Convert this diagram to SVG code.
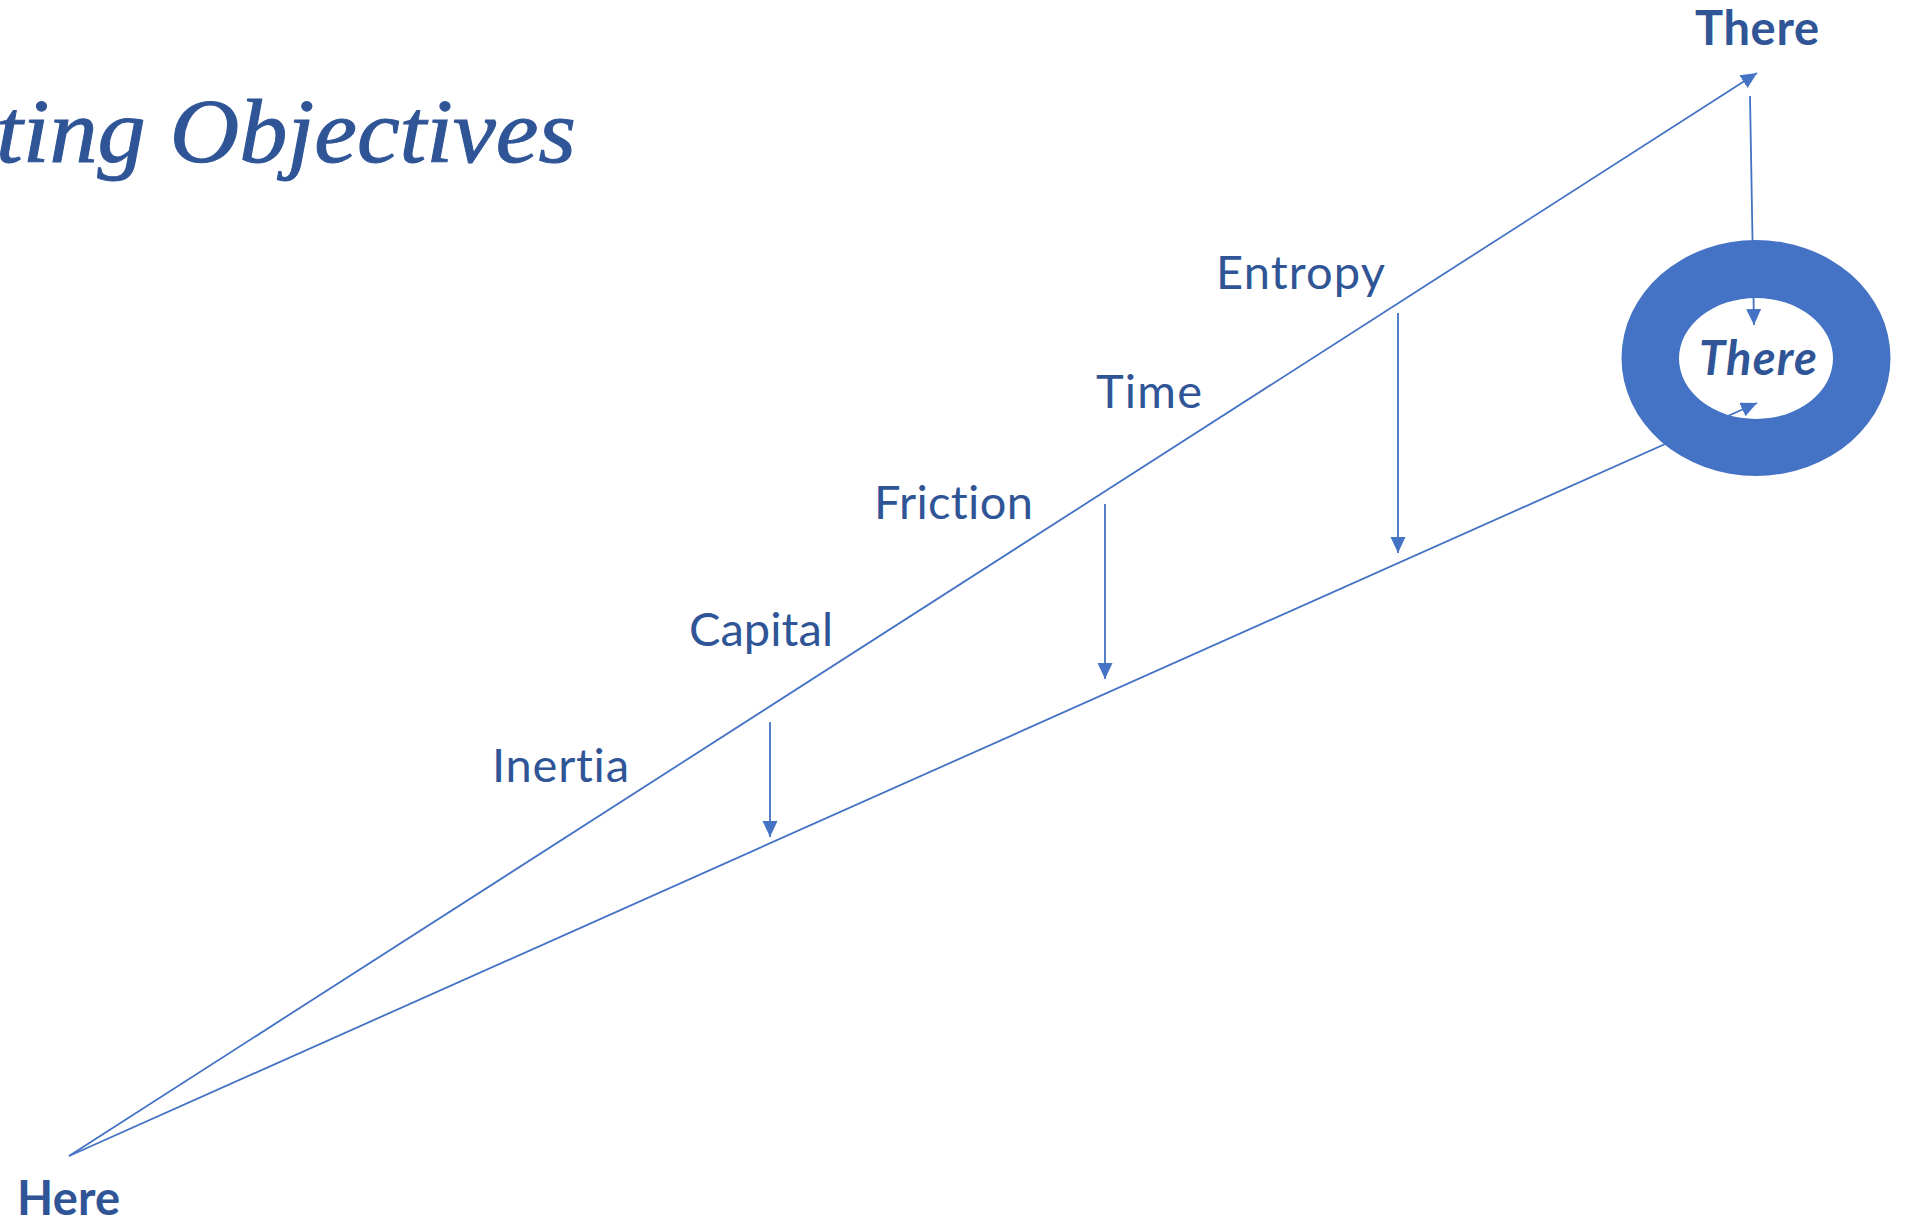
<svg xmlns="http://www.w3.org/2000/svg" width="1909" height="1223" viewBox="0 0 1909 1223">
  <defs>
    <marker id="arrow" markerUnits="userSpaceOnUse" markerWidth="17" markerHeight="16" refX="16" refY="7.5" orient="auto">
      <path d="M0,0 L16,7.5 L0,15 Z" fill="#4472C4"/>
    </marker>
    <style>
      .conn { stroke: #4472C4; stroke-width: 1.8; fill: none; marker-end: url(#arrow); }
      .label { font-family: Lato, "Open Sans", "Liberation Sans", sans-serif; font-size: 47px; fill: #2F5597; font-variant-ligatures: none; font-feature-settings: "liga" 0, "clig" 0; }
      .bold { font-weight: bold; }
      .title { font-family: "Liberation Serif", serif; font-style: italic; font-size: 90px; fill: #2F5597; stroke: #2F5597; stroke-width: 1; }
    </style>
  </defs>
  <rect width="1909" height="1223" fill="#FFFFFF"/>

  <g id="title">
    <text class="title" x="-4" y="162" textLength="580" lengthAdjust="spacingAndGlyphs">ting Objectives</text>
  </g>

  <g id="connectors">
    <line class="conn" x1="69" y1="1156" x2="1757" y2="73"/>
    <line class="conn" x1="69" y1="1156" x2="1757" y2="403"/>
    <line class="conn" x1="1750" y1="96" x2="1754" y2="325"/>
    <line class="conn" x1="770" y1="722" x2="770" y2="837"/>
    <line class="conn" x1="1105" y1="504" x2="1105" y2="679"/>
    <line class="conn" x1="1398" y1="313" x2="1398" y2="553"/>
  </g>

  <g id="ring">
    <path fill="#4472C4" fill-rule="evenodd" d="M1621.5,358 a134.5,118 0 1,0 269,0 a134.5,118 0 1,0 -269,0 Z M1679,358.5 a77,60.5 0 1,0 154,0 a77,60.5 0 1,0 -154,0 Z"/>
    <text class="label bold" x="1699" y="375" font-size="42" font-style="italic" textLength="118">There</text>
  </g>

  <g id="here">
    <text class="label bold" x="17" y="1215" textLength="103">Here</text>
  </g>
  <g id="there-top">
    <text class="label bold" x="1695" y="45" textLength="124">There</text>
  </g>
  <g id="entropy">
    <text class="label" x="1216" y="289" textLength="169">Entropy</text>
  </g>
  <g id="time">
    <text class="label" x="1096" y="408" textLength="106">Time</text>
  </g>
  <g id="friction">
    <text class="label" x="874" y="519" textLength="159">Friction</text>
  </g>
  <g id="capital">
    <text class="label" x="689" y="646" textLength="144">Capital</text>
  </g>
  <g id="inertia">
    <text class="label" x="492" y="782" textLength="137">Inertia</text>
  </g>
</svg>
